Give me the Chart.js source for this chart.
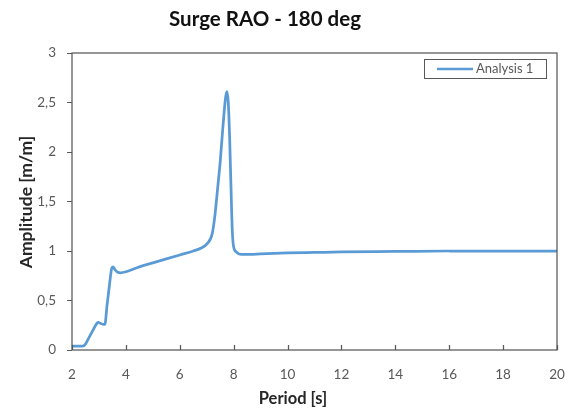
<!DOCTYPE html>
<html>
<head>
<meta charset="utf-8">
<script src="https://cdn.jsdelivr.net/npm/chart.js@4"></script>
<style>
  html, body { margin: 0; padding: 0; background: #fff; }
  #wrap { width: 565px; height: 409px; }
</style>
</head>
<body>
<div id="wrap"><canvas id="raoChart" width="565" height="409"></canvas></div>
<script>
// Data
const periods = [2, 2.2, 2.4, 2.5, 2.6, 2.7, 2.8, 2.9, 2.97, 3.05, 3.15, 3.22, 3.3, 3.4, 3.47, 3.52, 3.6, 3.7, 3.8, 4, 4.5, 5, 5.5, 6, 6.5, 6.8, 7, 7.2, 7.3, 7.4, 7.5, 7.6, 7.7, 7.75, 7.8, 7.85, 7.9, 7.95, 8, 8.1, 8.2, 8.4, 8.6, 9, 10, 11, 12, 14, 16, 18, 20];
const amplitudes = [0.04, 0.04, 0.04, 0.06, 0.11, 0.16, 0.21, 0.26, 0.28, 0.27, 0.26, 0.26, 0.45, 0.68, 0.82, 0.84, 0.81, 0.785, 0.78, 0.79, 0.84, 0.88, 0.92, 0.96, 1.0, 1.03, 1.07, 1.17, 1.35, 1.62, 1.9, 2.25, 2.55, 2.61, 2.5, 2.15, 1.65, 1.2, 1.04, 0.99, 0.97, 0.965, 0.965, 0.97, 0.98, 0.985, 0.99, 0.995, 1.0, 1.0, 1.0];
const xTicks = [2, 4, 6, 8, 10, 12, 14, 16, 18, 20];
const yTicks = [0, 0.5, 1, 1.5, 2, 2.5, 3];
const seriesName = 'Analysis 1';

const lineColor = '#5B9BD5';
const axisColor = '#595959';
const fontFam = 'Lato, "Open Sans", sans-serif';

// Frame, inner x ticks, titles and legend box
const decor = {
  id: 'decor',
  afterDraw(chart) {
    const { ctx, chartArea: a, scales } = chart;
    ctx.save();
    ctx.strokeStyle = axisColor;
    ctx.lineWidth = 1.25;
    ctx.strokeRect(a.left, a.top, a.right - a.left, a.bottom - a.top);
    // x ticks point up into the plot
    ctx.beginPath();
    xTicks.forEach(v => {
      const x = Math.round(scales.x.getPixelForValue(v)) + 0.5;
      ctx.moveTo(x, a.bottom);
      ctx.lineTo(x, a.bottom - 5);
    });
    ctx.stroke();

    // chart title
    ctx.fillStyle = '#111';
    ctx.textAlign = 'center';
    ctx.textBaseline = 'alphabetic';
    ctx.font = 'bold 20.5px ' + fontFam;
    ctx.fillText('Surge RAO - 180 deg', 265, 26);

    // axis titles
    ctx.fillStyle = '#262626';
    ctx.font = 'bold 16.5px ' + fontFam;
    ctx.fillText('Period [s]', 293, 404);
    ctx.save();
    ctx.font = 'bold 17.5px ' + fontFam;
    ctx.translate(26, 202);
    ctx.rotate(-Math.PI / 2);
    ctx.textBaseline = 'middle';
    ctx.fillText('Amplitude [m/m]', 0, 0);
    ctx.restore();

    // legend
    ctx.strokeStyle = axisColor;
    ctx.lineWidth = 1;
    ctx.strokeRect(424.5, 59.5, 122, 19);
    ctx.strokeStyle = lineColor;
    ctx.lineWidth = 2.5;
    ctx.beginPath();
    ctx.moveTo(437, 69);
    ctx.lineTo(473, 69);
    ctx.stroke();
    ctx.fillStyle = axisColor;
    ctx.font = '13px ' + fontFam;
    ctx.textAlign = 'left';
    ctx.textBaseline = 'middle';
    ctx.fillText(seriesName, 476, 69);
    ctx.restore();
  }
};

const comma = v => String(v).replace('.', ',');

new Chart(document.getElementById('raoChart'), {
  type: 'scatter',
  data: {
    datasets: [{
      label: seriesName,
      data: periods.map((p, i) => ({ x: p, y: amplitudes[i] })),
      showLine: true,
      borderColor: lineColor,
      borderWidth: 2.75,
      pointRadius: 0,
      cubicInterpolationMode: 'monotone'
    }]
  },
  options: {
    responsive: false,
    animation: false,
    layout: { padding: { top: 53, right: 8, left: 0, bottom: 0 } },
    plugins: { legend: { display: false }, title: { display: false }, tooltip: { enabled: false } },
    scales: {
      x: {
        type: 'linear',
        min: 2, max: 20,
        afterBuildTicks: s => { s.ticks = xTicks.map(v => ({ value: v })); },
        afterFit: s => { s.height = 59; s.paddingLeft = 0; s.paddingRight = 0; },
        grid: { display: false },
        border: { display: false },
        ticks: { color: axisColor, font: { family: fontFam, size: 13.5 }, padding: 9, callback: comma, maxRotation: 0 }
      },
      y: {
        min: 0, max: 3,
        afterBuildTicks: s => { s.ticks = yTicks.map(v => ({ value: v })); },
        afterFit: s => { s.width = 72; s.paddingTop = 0; s.paddingBottom = 0; },
        grid: { drawOnChartArea: false, drawTicks: true, tickLength: 5, color: axisColor },
        border: { display: false },
        ticks: { color: axisColor, font: { family: fontFam, size: 13.5 }, padding: 11, callback: comma }
      }
    }
  },
  plugins: [decor]
});
</script>
</body>
</html>
